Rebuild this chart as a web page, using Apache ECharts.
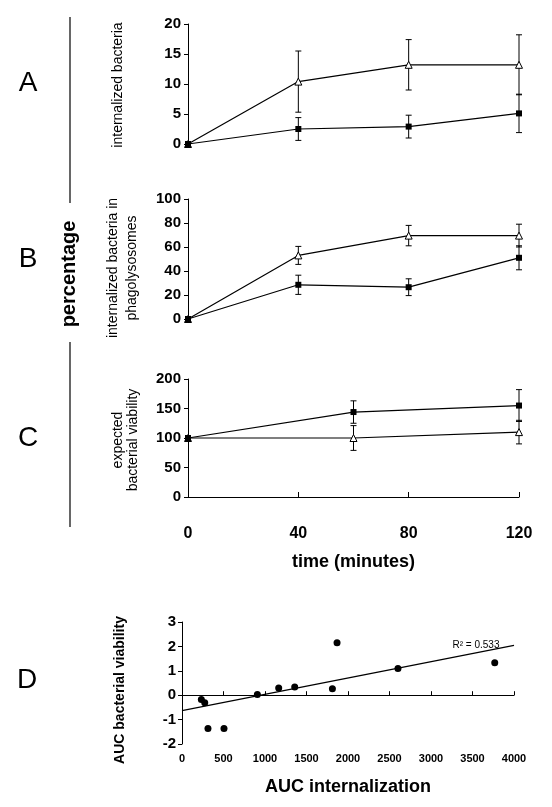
<!DOCTYPE html>
<html><head><meta charset="utf-8">
<script src="https://cdn.jsdelivr.net/npm/echarts@6/dist/echarts.min.js"></script>
<style>html,body{margin:0;padding:0;background:#fff}#c{width:552px;height:807px}</style>
</head><body><div id="c"></div>
<script>
// ---------- data ----------
var timesAB = [0, 40, 80, 120];
var timesC = [0, 60, 120];
var xTicksTime = [0, 40, 80, 120];

var aTriangle = [0, 10.4, 13.2, 13.2];
var aTriangleErr = [0, 5.1, 4.2, 5.0];
var aSquare = [0, 2.5, 2.9, 5.1];
var aSquareErr = [0, 1.9, 1.9, 3.2];

var bTriangle = [0, 53, 69.5, 69.5];
var bTriangleErr = [0, 7.5, 8.5, 9.5];
var bSquare = [0, 28.5, 26.5, 51];
var bSquareErr = [0, 8, 7, 10];

var cSquare = [100, 144, 155];
var cSquareErr = [0, 19, 27];
var cTriangle = [100, 100, 110];
var cTriangleErr = [0, 21, 20];

var dAUCInternalization = [233, 274, 313, 506, 908, 1165, 1358, 1812, 1868, 2602, 3768];
var dAUCViability = [-0.18, -0.31, -1.36, -1.36, 0.03, 0.30, 0.34, 0.26, 2.15, 1.09, 1.33];
var dFitIntercept = -0.63;
var dFitSlope = 0.000668;
var dFitRange = [0, 4000];
var dR2Label = 'R\u00B2 = 0.533';

// ---------- helpers ----------
var FONT = "'Liberation Sans', Arial, Helvetica, sans-serif";
function pairs(xs, ys) { return xs.map(function (x, i) { return [x, ys[i]]; }); }
function errs(xs, ys, es) {
  var out = [];
  xs.forEach(function (x, i) { if (es[i] > 0) out.push([x, ys[i] - es[i], ys[i] + es[i]]); });
  return out;
}
function errRender(params, api) {
  var x = api.value(0), lo = api.value(1), hi = api.value(2);
  var pt = api.coord([x, hi]), pb = api.coord([x, lo]);
  var w = 3, st = { stroke: '#000', lineWidth: 1 };
  return { type: 'group', children: [
    { type: 'line', shape: { x1: pt[0], y1: pt[1], x2: pb[0], y2: pb[1] }, style: st },
    { type: 'line', shape: { x1: pt[0] - w, y1: pt[1], x2: pt[0] + w, y2: pt[1] }, style: st },
    { type: 'line', shape: { x1: pb[0] - w, y1: pb[1], x2: pb[0] + w, y2: pb[1] }, style: st }
  ] };
}
function errSeries(idx, data) {
  return { type: 'custom', xAxisIndex: idx, yAxisIndex: idx, data: data, renderItem: errRender,
    encode: { x: 0, y: [1, 2] }, silent: true, z: 2 };
}
function triSeries(idx, data) {
  return { type: 'line', xAxisIndex: idx, yAxisIndex: idx, data: data, symbol: 'triangle', symbolSize: 7,
    showAllSymbol: true, lineStyle: { color: '#000', width: 1.2 },
    itemStyle: { color: '#fff', borderColor: '#000', borderWidth: 1 }, z: 3, silent: true, animation: false };
}
function sqSeries(idx, data) {
  return { type: 'line', xAxisIndex: idx, yAxisIndex: idx, data: data, symbol: 'rect', symbolSize: 6,
    showAllSymbol: true, lineStyle: { color: '#000', width: 1.2 },
    itemStyle: { color: '#000', borderColor: '#000', borderWidth: 0 }, z: 4, silent: true, animation: false };
}
var axisLineBlack = { show: true, lineStyle: { color: '#000', width: 1 } };
function yAx(idx, min, max, interval, margin) {
  return { gridIndex: idx, type: 'value', min: min, max: max, interval: interval,
    axisLine: axisLineBlack, axisTick: { show: true, length: 4, lineStyle: { color: '#000' } },
    splitLine: { show: false },
    axisLabel: { color: '#000', fontFamily: FONT, fontWeight: 'bold', fontSize: 15, margin: margin } };
}
function hiddenX(idx) {
  return { gridIndex: idx, type: 'value', min: 0, max: 120, interval: 40, show: false };
}

var option = {
  animation: false,
  backgroundColor: '#fff',
  grid: [
    { left: 188, width: 331, top: 24, height: 120 },
    { left: 188, width: 331, top: 199, height: 120 },
    { left: 188, width: 331, top: 379, height: 118 },
    { left: 182, width: 332, top: 622, height: 122 }
  ],
  xAxis: [
    hiddenX(0), hiddenX(1),
    { gridIndex: 2, type: 'value', min: xTicksTime[0], max: xTicksTime[xTicksTime.length - 1], interval: 40, offset: 17,
      axisLine: axisLineBlack, axisTick: { show: true, inside: true, length: 5, lineStyle: { color: '#000' } },
      splitLine: { show: false },
      axisLabel: { color: '#000', fontFamily: FONT, fontWeight: 'bold', fontSize: 16, margin: 12 },
      name: 'time (minutes)', nameLocation: 'middle', nameGap: 39,
      nameTextStyle: { color: '#000', fontFamily: FONT, fontWeight: 'bold', fontSize: 18 } },
    { gridIndex: 3, type: 'value', min: 0, max: 4000, interval: 500,
      axisLine: axisLineBlack, axisTick: { show: true, inside: true, length: 4, lineStyle: { color: '#000' } },
      splitLine: { show: false },
      axisLabel: { color: '#000', fontFamily: FONT, fontWeight: 'bold', fontSize: 11, margin: 9,
        formatter: function (v) { return String(v); } },
      name: 'AUC internalization', nameLocation: 'middle', nameGap: 34,
      nameTextStyle: { color: '#000', fontFamily: FONT, fontWeight: 'bold', fontSize: 18 } }
  ],
  yAxis: [
    yAx(0, 0, 20, 5, 7),
    yAx(1, 0, 100, 20, 7),
    yAx(2, 0, 200, 50, 7),
    yAx(3, -2, 3, 1, 6)
  ],
  series: [
    errSeries(0, errs(timesAB, aTriangle, aTriangleErr)),
    errSeries(0, errs(timesAB, aSquare, aSquareErr)),
    triSeries(0, pairs(timesAB, aTriangle)),
    sqSeries(0, pairs(timesAB, aSquare)),

    errSeries(1, errs(timesAB, bTriangle, bTriangleErr)),
    errSeries(1, errs(timesAB, bSquare, bSquareErr)),
    triSeries(1, pairs(timesAB, bTriangle)),
    sqSeries(1, pairs(timesAB, bSquare)),

    errSeries(2, errs(timesC, cTriangle, cTriangleErr)),
    errSeries(2, errs(timesC, cSquare, cSquareErr)),
    triSeries(2, pairs(timesC, cTriangle)),
    sqSeries(2, pairs(timesC, cSquare)),

    { type: 'line', xAxisIndex: 3, yAxisIndex: 3, symbol: 'none', silent: true,
      data: dFitRange.map(function (x) { return [x, dFitIntercept + dFitSlope * x]; }),
      lineStyle: { color: '#000', width: 1.2 }, z: 2 },
    { type: 'scatter', xAxisIndex: 3, yAxisIndex: 3, symbol: 'circle', symbolSize: 7, silent: true,
      data: pairs(dAUCInternalization, dAUCViability), itemStyle: { color: '#000', opacity: 1 }, z: 3 }
  ],
  graphic: [
    // panel letters
    { type: 'text', x: 28, y: 83, style: { text: 'A', font: 'normal 28px ' + FONT, fill: '#000', align: 'center', verticalAlign: 'middle' } },
    { type: 'text', x: 28, y: 259, style: { text: 'B', font: 'normal 28px ' + FONT, fill: '#000', align: 'center', verticalAlign: 'middle' } },
    { type: 'text', x: 28, y: 438, style: { text: 'C', font: 'normal 28px ' + FONT, fill: '#000', align: 'center', verticalAlign: 'middle' } },
    { type: 'text', x: 27, y: 680, style: { text: 'D', font: 'normal 28px ' + FONT, fill: '#000', align: 'center', verticalAlign: 'middle' } },
    // percentage bracket
    { type: 'line', shape: { x1: 70, y1: 17, x2: 70, y2: 203 }, style: { stroke: '#000', lineWidth: 1.2 } },
    { type: 'line', shape: { x1: 70, y1: 342, x2: 70, y2: 527 }, style: { stroke: '#000', lineWidth: 1.2 } },
    { type: 'text', x: 69, y: 274, rotation: Math.PI / 2,
      style: { text: 'percentage', font: 'bold 20px ' + FONT, fill: '#000', align: 'center', verticalAlign: 'middle' } },
    // y titles
    { type: 'text', x: 118, y: 85, rotation: Math.PI / 2,
      style: { text: 'internalized bacteria', font: 'normal 14px ' + FONT, fill: '#000', align: 'center', verticalAlign: 'middle' } },
    { type: 'text', x: 123, y: 268, rotation: Math.PI / 2,
      style: { text: 'internalized bacteria in\nphagolysosomes', font: 'normal 14px ' + FONT, lineHeight: 19, fill: '#000', align: 'center', verticalAlign: 'middle' } },
    { type: 'text', x: 125.5, y: 440, rotation: Math.PI / 2,
      style: { text: 'expected\nbacterial viability', font: 'normal 14px ' + FONT, lineHeight: 15, fill: '#000', align: 'center', verticalAlign: 'middle' } },
    { type: 'text', x: 120, y: 690, rotation: Math.PI / 2,
      style: { text: 'AUC bacterial viability', font: 'bold 14px ' + FONT, fill: '#000', align: 'center', verticalAlign: 'middle' } },
    { type: 'text', x: 476, y: 645,
      style: { text: dR2Label, font: 'normal 10px ' + FONT, fill: '#000', align: 'center', verticalAlign: 'middle' } }
  ]
};
var chart = echarts.init(document.getElementById('c'), null, { renderer: 'canvas' });
chart.setOption(option);
</script>
</body></html>
